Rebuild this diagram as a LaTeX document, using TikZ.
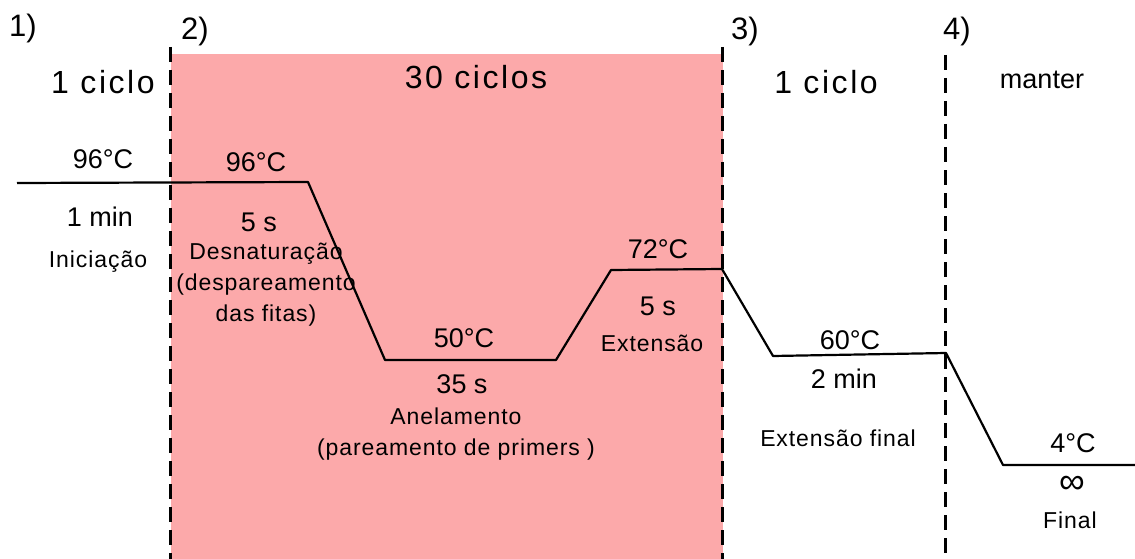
\documentclass[tikz,border=0pt]{standalone}
\usepackage{fontspec}
\usepackage{tikz}
\setmainfont{Liberation Sans}
\definecolor{rosa}{RGB}{252,169,170}
\newcommand{\grande}{\fontsize{32}{36}\selectfont\addfontfeatures{LetterSpace=8}}
\newcommand{\medio}{\fontsize{27}{31}\selectfont}
\newcommand{\pequeno}{\fontsize{23}{31}\selectfont\addfontfeatures{LetterSpace=4}}
\tikzset{
  fase/.style={line width=3pt, dash pattern=on 15pt off 8pt},
  rotulo/.style={inner sep=0pt, align=center, font=\medio},
}

\begin{document}
\begin{tikzpicture}[line cap=butt,line join=round,x=1pt,y=-1pt]
          \useasboundingbox (0,0) rectangle (1135,559);
          % curva de temperatura
          \coordinate (A) at (17,183);
          \coordinate (B) at (308,182);
          \coordinate (C) at (385,360);
          \coordinate (D) at (556,360);
          \coordinate (E) at (611,270);
          \coordinate (F) at (722,269);
          \coordinate (G) at (773,356);
          \coordinate (H) at (946,353);
          \coordinate (I) at (1003,465);
          \coordinate (J) at (1135,465);

          \fill[rosa] (171,54) rectangle (723,559);

          \draw[fase] (170,47) -- (170,559);
          \draw[fase] (722,47) -- (722,559);
          \draw[fase] (945,55) -- (945,559);

          \draw[line width=2.2pt] (A) -- (B) -- (C) -- (D) -- (E) -- (F) -- (G) -- (H) -- (I) -- (J);

          % etapas
          \node[rotulo, font=\fontsize{31}{33}\selectfont] (n1) at (23,28) {1)};
          \node[rotulo, font=\fontsize{31}{33}\selectfont] (n2) at (195,31) {2)};
          \node[rotulo, font=\fontsize{31}{33}\selectfont] (n3) at (745,31) {3)};
          \node[rotulo, font=\fontsize{31}{33}\selectfont] (n4) at (957,31) {4)};

          \node[rotulo, font=\grande] (c1) at (103,82) {1 ciclo};
          \node[rotulo, font=\grande] (c2) at (476,77) {30 ciclos};
          \node[rotulo, font=\grande] (c3) at (826,82) {1 ciclo};
          \node[rotulo, font=\fontsize{27}{30}\selectfont] (c4) at (1042,80) {manter};

          % inicia\c{c}\~ao
          \node[rotulo] (t1) at (103,159) {96°C};
          \node[rotulo] (h1) at (100,217) {1 min};
          \node[rotulo, font=\pequeno] (e1) at (98,262) {Iniciação};

          % desnatura\c{c}\~ao
          \node[rotulo] (t2) at (256,162) {96°C};
          \node[rotulo] (h2) at (259,222) {5 s};
          \node[rotulo, font=\pequeno] (e2) at (266,285) {Desnaturação\\(despareamento\\das fitas)};

          % anelamento
          \node[rotulo] (t3) at (464,338) {50°C};
          \node[rotulo] (h3) at (462,384) {35 s};
          \node[rotulo, font=\pequeno] (e3) at (456,434) {Anelamento\\(pareamento de primers )};

          % extens\~ao
          \node[rotulo] (t4) at (658,249) {72°C};
          \node[rotulo] (h4) at (658,306) {5 s};
          \node[rotulo, font=\pequeno] (e4) at (652,343) {Extensão};

          % extens\~ao final
          \node[rotulo] (t5) at (850,340) {60°C};
          \node[rotulo] (h5) at (844,379) {2 min};
          \node[rotulo, font=\pequeno] (e5) at (838,438) {Extensão final};

          % final
          \node[rotulo] (t6) at (1073,443) {4°C};
          \node[rotulo, font=\fontsize{36}{36}\selectfont] (h6) at (1072,485) {∞};
          \node[rotulo, font=\pequeno] (e6) at (1070,520) {Final};
        \end{tikzpicture}
\end{document}
